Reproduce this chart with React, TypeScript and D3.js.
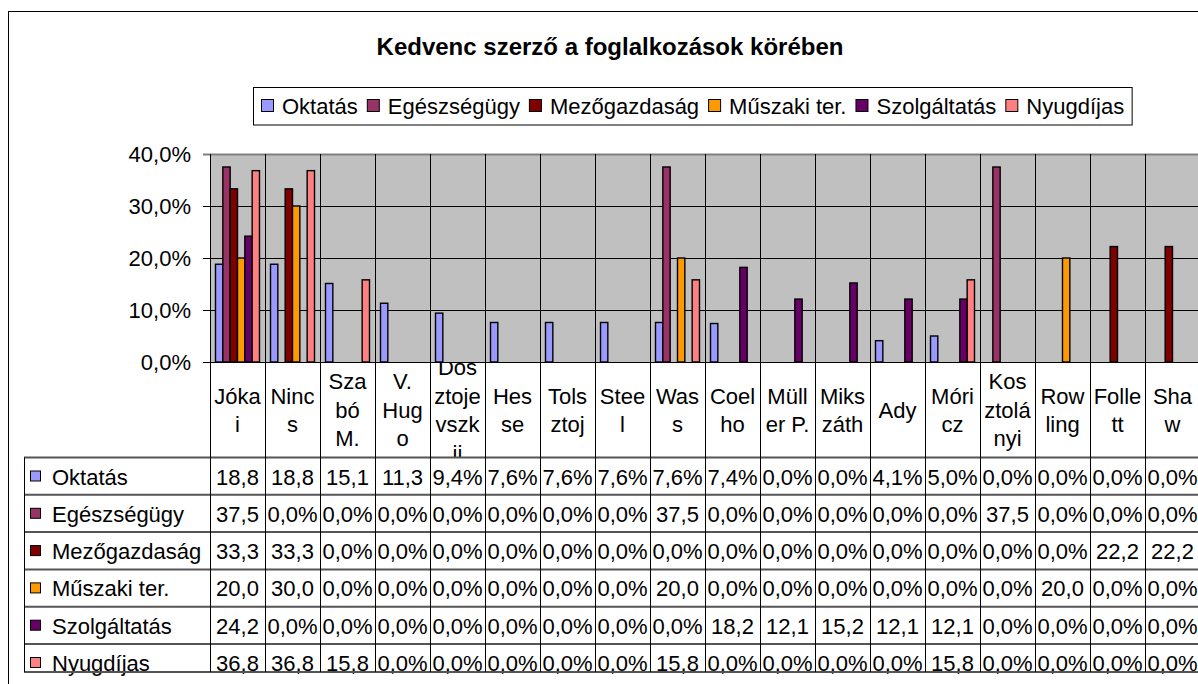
import React from "react";
import * as d3 from "d3";

const chartTitle = "Kedvenc szerző a foglalkozások körében";
const categories = [
  "Jókai", "Nincs", "Szabó M.", "V. Hugo", "Dosztojevszkij", "Hesse", "Tolsztoj", "Steel", "Wass",
  "Coelho", "Müller P.", "Mikszáth", "Ady", "Móricz", "Kosztolányi", "Rowling", "Follett", "Shaw",
];
const seriesNames = ["Oktatás", "Egészségügy", "Mezőgazdaság", "Műszaki ter.", "Szolgáltatás", "Nyugdíjas"];
const seriesColors = ["#9999FF", "#993366", "#800000", "#FF9900", "#660066", "#FF8080"];

// percentages, one value per category
const oktatas = [18.8, 18.8, 15.1, 11.3, 9.4, 7.6, 7.6, 7.6, 7.6, 7.4, 0, 0, 4.1, 5.0, 0, 0, 0, 0];
const egeszsegugy = [37.5, 0, 0, 0, 0, 0, 0, 0, 37.5, 0, 0, 0, 0, 0, 37.5, 0, 0, 0];
const mezogazdasag = [33.3, 33.3, 0, 0, 0, 0, 0, 0, 0, 0, 0, 0, 0, 0, 0, 0, 22.2, 22.2];
const muszaki = [20.0, 30.0, 0, 0, 0, 0, 0, 0, 20.0, 0, 0, 0, 0, 0, 0, 20.0, 0, 0];
const szolgaltatas = [24.2, 0, 0, 0, 0, 0, 0, 0, 0, 18.2, 12.1, 15.2, 12.1, 12.1, 0, 0, 0, 0];
const nyugdijas = [36.8, 36.8, 15.8, 0, 0, 0, 0, 0, 15.8, 0, 0, 0, 0, 15.8, 0, 0, 0, 0];
const yTicks = [0, 10, 20, 30, 40];

const seriesValues = [oktatas, egeszsegugy, mezogazdasag, muszaki, szolgaltatas, nyugdijas];

const W = 1198;
const H = 684;
const FONT = "'Liberation Sans', Arial, sans-serif";

const pct = (v: number) => v.toFixed(1).replace(".", ",") + "%";

// Excel-like wrapping: whole words when they fit, otherwise break inside the word
function wrapLabel(label: string, maxW: number, measure: (s: string) => number): string[] {
  const lines: string[] = [];
  let cur = "";
  for (const word of label.split(" ")) {
    if (cur && measure(cur + " " + word) <= maxW) {
      cur = cur + " " + word;
      continue;
    }
    if (cur) lines.push(cur);
    let rest = word;
    while (measure(rest) > maxW) {
      let k = 1;
      while (k < rest.length && measure(rest.slice(0, k + 1)) <= maxW) k++;
      lines.push(rest.slice(0, k));
      rest = rest.slice(k);
    }
    cur = rest;
  }
  if (cur) lines.push(cur);
  return lines;
}

const Chart = () => {
  const ref = React.useRef<SVGSVGElement>(null);

  React.useEffect(() => {
    const svg = d3.select(ref.current);
    svg.selectAll("*").remove();

    const ctx = document.createElement("canvas").getContext("2d")!;
    ctx.font = "22px 'Liberation Sans'";
    const measure = (s: string) => ctx.measureText(s).width;

    const plotTop = 154, plotBottom = 362, plotLeft = 210, plotRight = 1200;
    const headBottom = 457.5, rowH = 37.3, tableBottom = 672, tableLeft = 24;

    const x = d3.scaleBand<string>().domain(categories).range([plotLeft, plotRight]);
    const xs = d3.scaleBand<string>().domain(seriesNames).range([0, x.bandwidth()]).paddingOuter(0.75);
    const y = d3.scaleLinear().domain([0, 40]).range([plotBottom, plotTop]);

    svg.append("rect").attr("width", W).attr("height", H).attr("fill", "#fff");
    // chart area border
    svg.append("rect").attr("x", 8.5).attr("y", 11.5).attr("width", 1250).attr("height", 700)
      .attr("fill", "none").attr("stroke", "#000");

    svg.append("text").attr("x", 610).attr("y", 55).attr("text-anchor", "middle")
      .attr("font-family", FONT).attr("font-size", 24).attr("font-weight", "bold").text(chartTitle);

    // legend
    const lg = svg.append("g");
    const lgBox = lg.append("rect").attr("x", 253.5).attr("y", 87.5).attr("height", 37.5)
      .attr("fill", "#fff").attr("stroke", "#000");
    let lx = 261;
    seriesNames.forEach((name, i) => {
      lg.append("rect").attr("x", lx + 0.5).attr("y", 99.5).attr("width", 12).attr("height", 12)
        .attr("fill", seriesColors[i]).attr("stroke", "#000");
      lg.append("text").attr("x", lx + 21).attr("y", 114).attr("font-family", FONT).attr("font-size", 22).text(name);
      lx += 21 + measure(name) + 9;
    });
    lgBox.attr("width", lx - 9 + 8 - 253.5);

    // plot area
    svg.append("rect").attr("x", plotLeft).attr("y", plotTop).attr("width", plotRight - plotLeft)
      .attr("height", plotBottom - plotTop).attr("fill", "#C0C0C0");
    svg.append("g").selectAll("line").data(yTicks).join("line")
      .attr("x1", plotLeft - 7).attr("x2", plotRight)
      .attr("y1", (d) => y(d) + 0.5).attr("y2", (d) => y(d) + 0.5)
      .attr("stroke", (d) => (d === 40 ? "#808080" : "#000")).attr("stroke-width", (d) => (d === 40 ? 2 : 1));
    svg.append("g").selectAll("text").data(yTicks).join("text")
      .attr("x", 191).attr("y", (d) => y(d) + 8).attr("text-anchor", "end")
      .attr("font-family", FONT).attr("font-size", 22).text((d) => pct(d));

    // bars
    seriesNames.forEach((name, si) => {
      svg.append("g").selectAll("rect")
        .data(seriesValues[si].map((v, ci) => ({ v, c: categories[ci] })).filter((d) => d.v > 0))
        .join("rect")
        .attr("x", (d) => x(d.c)! + xs(name)!)
        .attr("y", (d) => y(d.v))
        .attr("width", xs.bandwidth())
        .attr("height", (d) => plotBottom - y(d.v))
        .attr("fill", seriesColors[si])
        .attr("stroke", "#000").attr("stroke-width", 1.4);
    });

    // data table header: category labels
    const defs = svg.append("defs");
    categories.forEach((c, ci) => {
      const x0 = x(c)!;
      defs.append("clipPath").attr("id", "hc" + ci).append("rect")
        .attr("x", x0).attr("y", plotBottom).attr("width", x.bandwidth()).attr("height", headBottom - plotBottom);
      const lines = wrapLabel(c, 48.3, measure);
      const mid = (plotBottom + headBottom) / 2;
      svg.append("g").attr("clip-path", `url(#hc${ci})`).selectAll("text").data(lines).join("text")
        .attr("x", x0 + x.bandwidth() / 2)
        .attr("y", (_, i) => mid + (i - (lines.length - 1) / 2) * 28.5 + 8)
        .attr("text-anchor", "middle").attr("font-family", FONT).attr("font-size", 22)
        .text((d) => d);
    });

    // data table rows
    seriesNames.forEach((name, si) => {
      const top = headBottom + si * rowH;
      const g = svg.append("g");
      g.append("rect").attr("x", 30.5).attr("y", top + 13.5).attr("width", 10).attr("height", 10)
        .attr("fill", seriesColors[si]).attr("stroke", "#000");
      g.append("text").attr("x", 52).attr("y", top + 27).attr("font-family", FONT).attr("font-size", 22).text(name);
      g.selectAll("text.v").data(seriesValues[si]).join("text").attr("class", "v")
        .attr("x", (_, ci) => x(categories[ci])! + x.bandwidth() / 2)
        .attr("y", top + 27).attr("text-anchor", "middle").attr("font-family", FONT).attr("font-size", 22)
        .text((v) => {
          let s = pct(v);
          while (s.length > 1 && measure(s) > 53) s = s.slice(0, -1);
          return s;
        });
    });

    // table grid
    const rowLines = d3.range(seriesNames.length).map((i) => headBottom + i * rowH).concat([tableBottom]);
    svg.append("g").selectAll("line").data(rowLines).join("line")
      .attr("x1", tableLeft).attr("x2", plotRight).attr("y1", (d) => d).attr("y2", (d) => d)
      .attr("stroke", "#555").attr("stroke-width", 2);
    const colLines = categories.map((c) => x(c)!).concat([plotRight]);
    svg.append("g").selectAll("line").data(colLines).join("line")
      .attr("x1", (d) => d + 0.5).attr("x2", (d) => d + 0.5).attr("y1", plotTop).attr("y2", tableBottom)
      .attr("stroke", "#000").attr("stroke-width", 1);
    svg.append("line").attr("x1", tableLeft + 0.5).attr("x2", tableLeft + 0.5)
      .attr("y1", headBottom).attr("y2", tableBottom).attr("stroke", "#000");
  }, []);

  return <svg ref={ref} width={W} height={H} style={{ position: "absolute", left: 0, top: 0, display: "block" }} />;
};

export default function App() {
  return <Chart />;
}
